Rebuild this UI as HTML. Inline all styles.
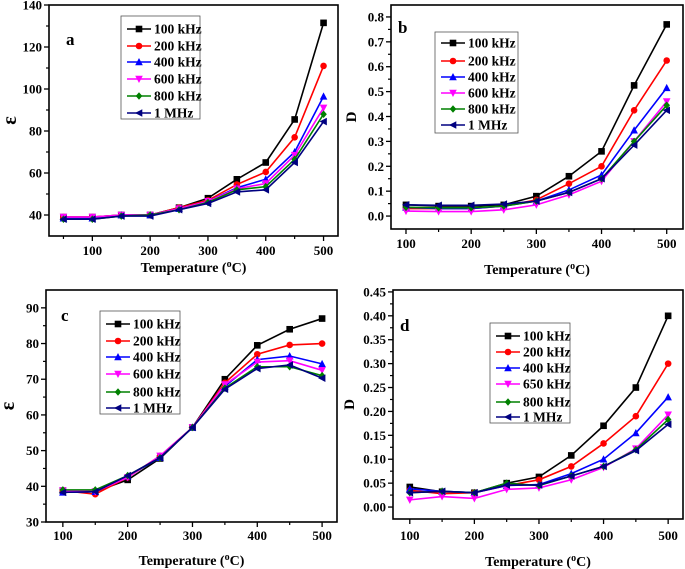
<!DOCTYPE html>
<html><head><meta charset="utf-8">
<style>
html,body{margin:0;padding:0;background:#fff;}
svg{display:block;}
svg text{font-family:"Liberation Serif","Times New Roman",serif;font-weight:bold;}
</style></head>
<body>
<svg id="chart" width="685" height="569" xmlns="http://www.w3.org/2000/svg"></svg>
<script>
const seriesNames = ["100 kHz","200 kHz","400 kHz","600 kHz","800 kHz","1 MHz"];
const seriesNamesD = ["100 kHz","200 kHz","400 kHz","650 kHz","800 kHz","1 MHz"];
const colors = ["#000000","#ff0000","#0000ff","#ff00ff","#008000","#000080"];
const markers = ["square","circle","up","down","diamond","left"];

const tempsA = [50,100,150,200,250,300,350,400,450,500];
const temps = [100,150,200,250,300,350,400,450,500];

const aS1 = [39,39,40,40,43.5,48,57,65,85.5,131.5];
const aS2 = [39,39,40,40,43.5,47,54.5,60.5,77,111];
const aS3 = [38.5,38.5,40,40,43,46.5,53,57,70,96.5];
const aS4 = [39,39,40,40,43,46.5,52.5,55,68.5,91];
const aS5 = [38,38,39.5,40,42.5,46,52,53.5,66.5,88];
const aS6 = [38,38,39.5,39.5,42.5,45.5,51,52,65,84.5];

const bS1 = [.045,.04,.04,.045,.08,.16,.26,.525,.77];
const bS2 = [.03,.03,.03,.04,.065,.13,.2,.425,.625];
const bS3 = [.035,.03,.03,.04,.06,.105,.165,.345,.515];
const bS4 = [.02,.018,.018,.025,.045,.085,.14,.30,.46];
const bS5 = [.035,.033,.033,.04,.06,.095,.15,.30,.445];
const bS6 = [.045,.043,.043,.048,.06,.095,.15,.285,.425];

const cS1 = [38.8,38.5,41.8,47.8,56.5,70,79.5,84,87];
const cS2 = [38.8,37.8,42.5,48.5,56.5,69,77,79.6,80];
const cS3 = [38.3,38.5,42.8,48,56.5,68,75.5,76.5,74.3];
const cS4 = [38.8,38.5,42.5,48.5,56.5,68.5,74.8,75.2,72.5];
const cS5 = [39,39,43,48,56.5,67.5,73.5,73.5,71];
const cS6 = [38.3,38.5,43,48,56.5,67.2,73,74,70.3];

const dS1 = [.042,.032,.03,.05,.063,.108,.17,.25,.40];
const dS2 = [.035,.028,.03,.045,.057,.085,.133,.19,.30];
const dS3 = [.038,.033,.03,.045,.047,.07,.1,.155,.23];
const dS4 = [.015,.022,.018,.037,.04,.057,.083,.122,.193];
const dS5 = [.03,.033,.03,.05,.045,.065,.085,.12,.183];
const dS6 = [.03,.033,.03,.046,.046,.065,.085,.118,.173];

const xTicksA = [100,200,300,400,500];
const xMinorA = [50,150,250,350,450];
const yTicksA = [40,60,80,100,120,140];
const yTicksB = [0,0.1,0.2,0.3,0.4,0.5,0.6,0.7,0.8];
const yTicksC = [30,40,50,60,70,80,90];
const yTicksD = [0,0.05,0.1,0.15,0.2,0.25,0.3,0.35,0.4,0.45];

const NS="http://www.w3.org/2000/svg";
const svg=document.getElementById('chart');
function mk(tag,attrs,parent){const e=document.createElementNS(NS,tag);for(const k in attrs)e.setAttribute(k,attrs[k]);(parent||svg).appendChild(e);return e;}

function marker(g,type,x,y,c){
  const s=3.3;let e;
  if(type==="square") e=mk('rect',{x:x-s,y:y-s,width:2*s,height:2*s,fill:c},g);
  else if(type==="circle") e=mk('circle',{cx:x,cy:y,r:s,fill:c},g);
  else if(type==="up") e=mk('polygon',{points:`${x},${y-s-0.7} ${x-s-0.5},${y+s} ${x+s+0.5},${y+s}`,fill:c},g);
  else if(type==="down") e=mk('polygon',{points:`${x},${y+s+0.7} ${x-s-0.5},${y-s} ${x+s+0.5},${y-s}`,fill:c},g);
  else if(type==="diamond") e=mk('polygon',{points:`${x},${y-s-0.5} ${x+s},${y} ${x},${y+s+0.5} ${x-s},${y}`,fill:c},g);
  else e=mk('polygon',{points:`${x-s-0.7},${y} ${x+s},${y-s-0.5} ${x+s},${y+s+0.5}`,fill:c},g);
  
  
}

function panel(p){
  const g=mk('g',{});
  
  
  const X=v=>p.L+(v-p.x0)/(p.x1-p.x0)*(p.R-p.L);
  const Y=v=>p.B-(v-p.y0)/(p.y1-p.y0)*(p.B-p.T);
  p.xTicks.forEach(v=>{
    mk('line',{x1:X(v),x2:X(v),y1:p.B,y2:p.B+5,stroke:'#000','stroke-width':1.3},g);
    const t=mk('text',{x:X(v),y:p.tickY,'text-anchor':'middle','font-size':13},g);
    t.textContent=v;
    
    
  });
  p.xMinor.forEach(v=>mk('line',{x1:X(v),x2:X(v),y1:p.B,y2:p.B+3,stroke:'#000','stroke-width':1.2},g));
  p.yTicks.forEach((v,i)=>{
    mk('line',{x1:p.L-5,x2:p.L,y1:Y(v),y2:Y(v),stroke:'#000','stroke-width':1.3},g);
    if(i<p.yTicks.length-1){const m=(v+p.yTicks[i+1])/2;mk('line',{x1:p.L-3,x2:p.L,y1:Y(m),y2:Y(m),stroke:'#000','stroke-width':1.2},g);}
    const t=mk('text',{x:p.L-7,y:Y(v)+4.5,'text-anchor':'end','font-size':13},g);
    t.textContent=v.toFixed(p.dec);
    
    
  });
  const fr=mk('rect',{x:p.L,y:p.T,width:p.R-p.L,height:p.B-p.T,fill:'none',stroke:'#000','stroke-width':1.6},g);
  
  
  const xt=mk('text',{x:(p.L+p.R)/2,y:p.titleY,'text-anchor':'middle','font-size':14},g);
  xt.innerHTML='Temperature (<tspan dy="-5" font-size="10">o</tspan><tspan dy="5">C)</tspan>';
  
  
  const yt=mk('text',{x:p.yTitleX,y:(p.T+p.B)/2,'text-anchor':'middle','font-size':p.yTitleSize,transform:`rotate(-90 ${p.yTitleX} ${(p.T+p.B)/2})`},g);
  yt.textContent=p.yTitle;
  
  
  const lb=mk('text',{x:p.labX,y:p.labY,'font-size':17},g);
  lb.textContent=p.id;
  
  
  p.series.forEach((s,i)=>{
    const sg=mk('g',{},g);
    
    
    const pts=s.map((v,j)=>X(p.xs[j])+','+Y(v)).join(' ');
    mk('polyline',{points:pts,fill:'none',stroke:colors[i],'stroke-width':1.6},sg);
    s.forEach((v,j)=>marker(sg,markers[i],X(p.xs[j]),Y(v),colors[i]));
  });
  const lg=mk('g',{},g);
  
  
  mk('rect',{x:p.lg[0],y:p.lg[1],width:p.lg[2],height:p.lg[3],fill:'#fff',stroke:'#555','stroke-width':0.8},lg);
  p.names.forEach((n,i)=>{
    const y=p.lgY[i];
    const le=mk('g',{},lg);
    
    
    mk('line',{x1:p.lg[0]+6,x2:p.lg[0]+30,y1:y,y2:y,stroke:colors[i],'stroke-width':1.6},le);
    marker(le,markers[i],p.lg[0]+18,y,colors[i]);
    const t=mk('text',{x:p.lg[0]+33,y:y+4.5,'font-size':13.5},le);
    t.textContent=n;
  });
}

panel({id:'a',L:49,R:338,T:5,B:236,x0:25,x1:525,y0:30,y1:140,xs:tempsA,
  series:[aS1,aS2,aS3,aS4,aS5,aS6],names:seriesNames,xTicks:xTicksA,xMinor:xMinorA,yTicks:yTicksA,dec:0,
  tickY:255,titleY:272,yTitle:'ε',yTitleSize:20,yTitleX:16,labX:66,labY:45,
  lg:[121,16,79,103],lgY:[29,46,62,79,96,113]});
panel({id:'b',L:391,R:683,T:5,B:229,x0:77,x1:525,y0:-0.052,y1:0.848,xs:temps,
  series:[bS1,bS2,bS3,bS4,bS5,bS6],names:seriesNames,xTicks:xTicksA,xMinor:[150,250,350,450],yTicks:yTicksB,dec:1,
  tickY:248,titleY:274,yTitle:'D',yTitleSize:15,yTitleX:356,labX:398,labY:33,
  lg:[435,32,83,101],lgY:[43,61,77,93,109,125]});
panel({id:'c',L:46,R:337,T:290,B:522,x0:74,x1:523,y0:30,y1:95,xs:temps,
  series:[cS1,cS2,cS3,cS4,cS5,cS6],names:seriesNames,xTicks:xTicksA,xMinor:[150,250,350,450],yTicks:yTicksC,dec:0,
  tickY:540,titleY:565,yTitle:'ε',yTitleSize:20,yTitleX:14,labX:61,labY:321,
  lg:[100,311,80,103],lgY:[324,341,357,374,392,408]});
panel({id:'d',L:393,R:683,T:290,B:519,x0:74,x1:523,y0:-0.025,y1:0.454,xs:temps,
  series:[dS1,dS2,dS3,dS4,dS5,dS6],names:seriesNamesD,xTicks:xTicksA,xMinor:[150,250,350,450],yTicks:yTicksD,dec:2,
  tickY:540,titleY:566,yTitle:'D',yTitleSize:15,yTitleX:354,labX:400,labY:331,
  lg:[490,323,80,100],lgY:[336,352,368,384,402,417]});
</script>
</body></html>
